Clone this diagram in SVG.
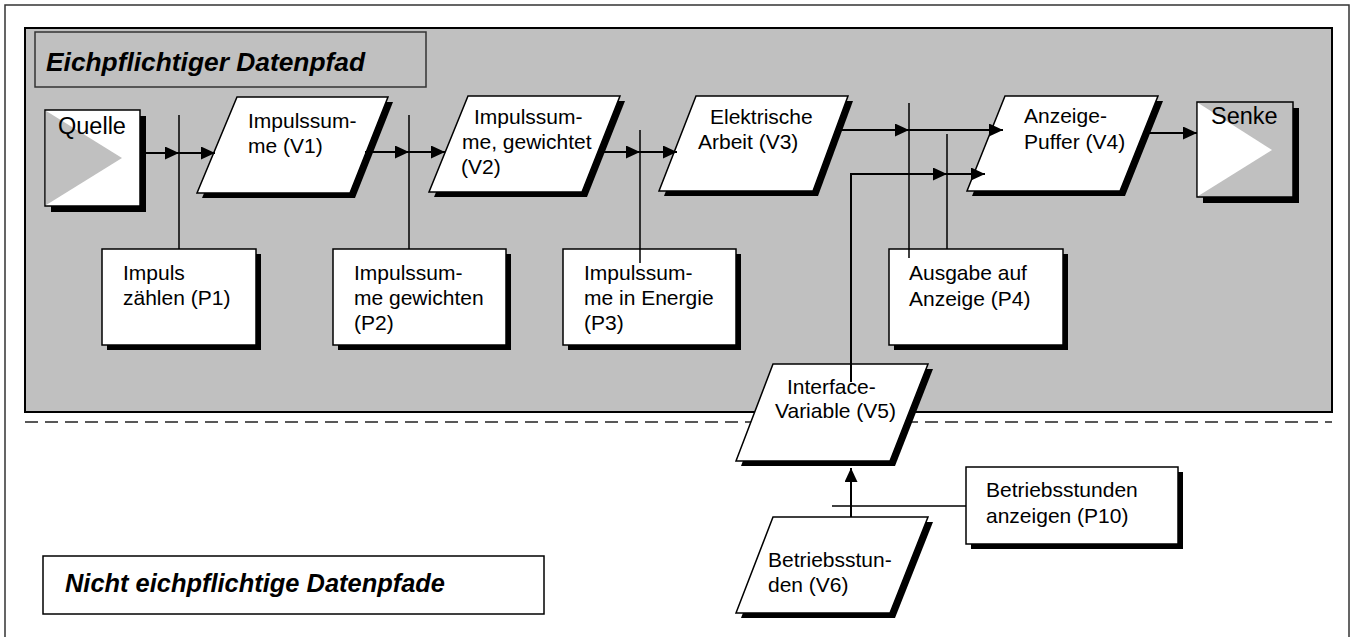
<svg xmlns="http://www.w3.org/2000/svg" width="1352" height="637" viewBox="0 0 1352 637">
<style>
text{font-family:"Liberation Sans",Arial,sans-serif;font-size:21px;fill:#000}
.big{font-size:23.5px}
.title{font-size:25px;font-weight:bold;font-style:italic}
.shadow{fill:#000;stroke:none}
.node{fill:#fff;stroke:#000;stroke-width:1.5}
.line{fill:none;stroke:#000;stroke-width:1.5}
.arrow{fill:none;stroke:#000;stroke-width:2;marker-end:url(#ah)}
</style>
<defs>
<marker id="ah" markerUnits="userSpaceOnUse" markerWidth="14" markerHeight="13" refX="14" refY="6.5" orient="auto">
<path d="M0,0 L14,6.5 L0,13 z" fill="#000"/>
</marker>
</defs>
<rect x="5" y="5" width="1344" height="640" fill="#fff" stroke="#333" stroke-width="1.5"/>
<g id="region-eich">
<rect x="25" y="28" width="1307" height="384" fill="#c0c0c0" stroke="#000" stroke-width="2"/>
<rect x="35" y="32" width="391" height="55" fill="#c0c0c0" stroke="#333" stroke-width="1.5"/>
<text class="title" x="46" y="71" textLength="319" lengthAdjust="spacingAndGlyphs">Eichpflichtiger Datenpfad</text>
</g>
<line x1="25" y1="422" x2="1332" y2="422" stroke="#222" stroke-width="1.5" stroke-dasharray="13,7"/>
<g id="region-nicht">
<rect x="43" y="556" width="501" height="58" fill="#fff" stroke="#000" stroke-width="1.5"/>
<text class="title" x="65" y="592" textLength="380" lengthAdjust="spacingAndGlyphs">Nicht eichpflichtige Datenpfade</text>
</g>
<g id="quelle">
<rect x="51" y="116" width="95" height="96" class="shadow"/>
<rect x="45" y="110" width="95" height="96" class="node"/>
<polygon points="45.8,110.8 122,158 45.8,205.2" fill="#c0c0c0"/>
<text class="big" x="58" y="134">Quelle</text>
</g>
<g id="senke">
<rect x="1203" y="108" width="96" height="95" class="shadow"/>
<rect x="1197" y="102" width="96" height="95" fill="#c0c0c0" stroke="#000" stroke-width="1.5"/>
<polygon points="1197.8,102.8 1272,150 1197.8,196.2" fill="#fff"/>
<text class="big" x="1211" y="124">Senke</text>
</g>
<g id="v1">
<polygon transform="translate(5,5)" points="237,97 388,97 350,193 197,193" class="shadow"/>
<polygon points="237,97 388,97 350,193 197,193" class="node"/>
<text x="248" y="128">Impulssum-</text>
<text x="248" y="153">me (V1)</text>
</g>
<g id="v2">
<polygon transform="translate(5,5)" points="468,96 620,96 582,192 429,192" class="shadow"/>
<polygon points="468,96 620,96 582,192 429,192" class="node"/>
<text x="474" y="124">Impulssum-</text>
<text x="462" y="149">me, gewichtet</text>
<text x="461" y="174">(V2)</text>
</g>
<g id="v3">
<polygon transform="translate(5,5)" points="696,96 848,96 813,191 659,191" class="shadow"/>
<polygon points="696,96 848,96 813,191 659,191" class="node"/>
<text x="710" y="124">Elektrische</text>
<text x="698" y="149">Arbeit (V3)</text>
</g>
<g id="v4">
<polygon transform="translate(5,5)" points="1005,96 1158,96 1120,191 967,191" class="shadow"/>
<polygon points="1005,96 1158,96 1120,191 967,191" class="node"/>
<text x="1024" y="123">Anzeige-</text>
<text x="1024" y="149">Puffer (V4)</text>
</g>
<g id="v5">
<polygon transform="translate(5,5)" points="773,364 928,364 890,461 736,461" class="shadow"/>
<polygon points="773,364 928,364 890,461 736,461" class="node"/>
<text x="787" y="394">Interface-</text>
<text x="775" y="418">Variable (V5)</text>
</g>
<g id="v6">
<polygon transform="translate(5,5)" points="773,517 928,517 890,613 736,613" class="shadow"/>
<polygon points="773,517 928,517 890,613 736,613" class="node"/>
<text x="768" y="567">Betriebsstun-</text>
<text x="768" y="592">den (V6)</text>
</g>
<g id="p1">
<rect x="107" y="254" width="154" height="96" class="shadow"/>
<rect x="102" y="249" width="154" height="96" class="node"/>
<text x="123" y="280">Impuls</text>
<text x="123" y="305">zählen (P1)</text>
</g>
<g id="p2">
<rect x="338" y="254" width="173" height="96" class="shadow"/>
<rect x="333" y="249" width="173" height="96" class="node"/>
<text x="354" y="280">Impulssum-</text>
<text x="354" y="305">me gewichten</text>
<text x="354" y="330">(P2)</text>
</g>
<g id="p3">
<rect x="568" y="254" width="173" height="96" class="shadow"/>
<rect x="563" y="249" width="173" height="96" class="node"/>
<text x="584" y="280">Impulssum-</text>
<text x="584" y="305">me in Energie</text>
<text x="584" y="330">(P3)</text>
</g>
<g id="p4">
<rect x="894" y="254" width="174" height="96" class="shadow"/>
<rect x="889" y="249" width="174" height="96" class="node"/>
<text x="909" y="280">Ausgabe auf</text>
<text x="909" y="306">Anzeige (P4)</text>
</g>
<g id="p10">
<rect x="971" y="472" width="212" height="77" class="shadow"/>
<rect x="966" y="467" width="212" height="77" class="node"/>
<text x="986" y="497">Betriebsstunden</text>
<text x="986" y="523">anzeigen (P10)</text>
</g>
<g id="connectors">
<line class="line" x1="179" y1="115" x2="179" y2="249"/>
<line class="line" x1="409" y1="115" x2="409" y2="249"/>
<line class="line" x1="640" y1="130" x2="640" y2="263"/>
<line class="line" x1="909" y1="103" x2="909" y2="258"/>
<line class="line" x1="947" y1="134" x2="947" y2="249"/>
<line class="line" x1="832" y1="506" x2="966" y2="506"/>
<line class="arrow" x1="140" y1="153" x2="179" y2="153"/>
<line class="arrow" x1="179" y1="153" x2="215" y2="153"/>
<line class="arrow" x1="365" y1="152" x2="409" y2="152"/>
<line class="arrow" x1="409" y1="152" x2="445" y2="152"/>
<line class="arrow" x1="598" y1="152" x2="640" y2="152"/>
<line class="arrow" x1="640" y1="152" x2="677" y2="152"/>
<line class="arrow" x1="836" y1="130" x2="909" y2="130"/>
<line class="arrow" x1="909" y1="130" x2="1003" y2="130"/>
<path class="arrow" d="M851,382 V174 H947"/>
<line class="arrow" x1="947" y1="174" x2="985" y2="174"/>
<line class="arrow" x1="1143" y1="133" x2="1197" y2="133"/>
<line class="arrow" x1="851" y1="517" x2="851" y2="468"/>
</g>
</svg>
